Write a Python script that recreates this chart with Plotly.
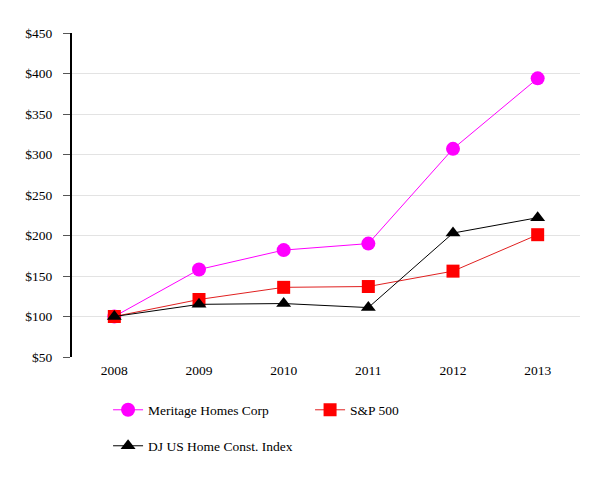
import plotly.graph_objects as go

years = ["2008", "2009", "2010", "2011", "2012", "2013"]
meritage = [100, 158, 182, 190, 307, 394]
sp500 = [100, 121, 136, 137, 156, 201]
dj_home = [100, 115, 116, 111, 203, 222]
y_ticks = [50, 100, 150, 200, 250, 300, 350, 400, 450]
y_labels = ["$" + str(v) for v in y_ticks]

FONT = "Liberation Serif, Times New Roman, Times, serif"
FS = 13.5

fig = go.Figure()
fig.add_trace(go.Scatter(x=years, y=meritage, name="Meritage Homes Corp", mode="lines+markers",
                         line=dict(color="#FF00FF", width=1),
                         marker=dict(symbol="circle", size=14, color="#FF00FF"),
                         legend="legend"))
fig.add_trace(go.Scatter(x=years, y=sp500, name="S&P 500", mode="lines+markers",
                         line=dict(color="#E02020", width=1),
                         marker=dict(symbol="square", size=13, color="#FF0000"),
                         legend="legend"))
fig.add_trace(go.Scatter(x=years, y=dj_home, name="DJ US Home Const. Index", mode="lines+markers",
                         line=dict(color="#000000", width=1),
                         marker=dict(symbol="triangle-up", size=13, color="#000000"),
                         legend="legend2"))

fig.update_layout(
    width=605, height=472,
    margin=dict(l=64, r=33, t=25, b=123),
    paper_bgcolor="white", plot_bgcolor="white",
    font=dict(family=FONT, size=FS, color="#000000"),
    showlegend=True,
    legend=dict(orientation="h", x=0.071, y=-0.1636, xanchor="left", yanchor="middle",
                entrywidth=157, entrywidthmode="pixels",
                font=dict(family=FONT, size=FS), itemclick=False),
    legend2=dict(orientation="h", x=0.071, y=-0.2747, xanchor="left", yanchor="middle",
                 font=dict(family=FONT, size=FS), itemclick=False),
    xaxis=dict(type="category", range=[-0.5, 5.5], showgrid=False, showline=False,
               zeroline=False, ticks="", ticklabelstandoff=3,
               tickfont=dict(family=FONT, size=FS)),
    yaxis=dict(range=[50, 450], tickvals=y_ticks, ticktext=y_labels,
               showgrid=True, gridcolor="#E3E3E3", gridwidth=1,
               showline=True, linecolor="#000000", linewidth=2,
               ticks="outside", ticklen=7, tickcolor="#555555",
               ticklabelstandoff=8, zeroline=False,
               tickfont=dict(family=FONT, size=FS)),
)

fig.write_html("out.html")
